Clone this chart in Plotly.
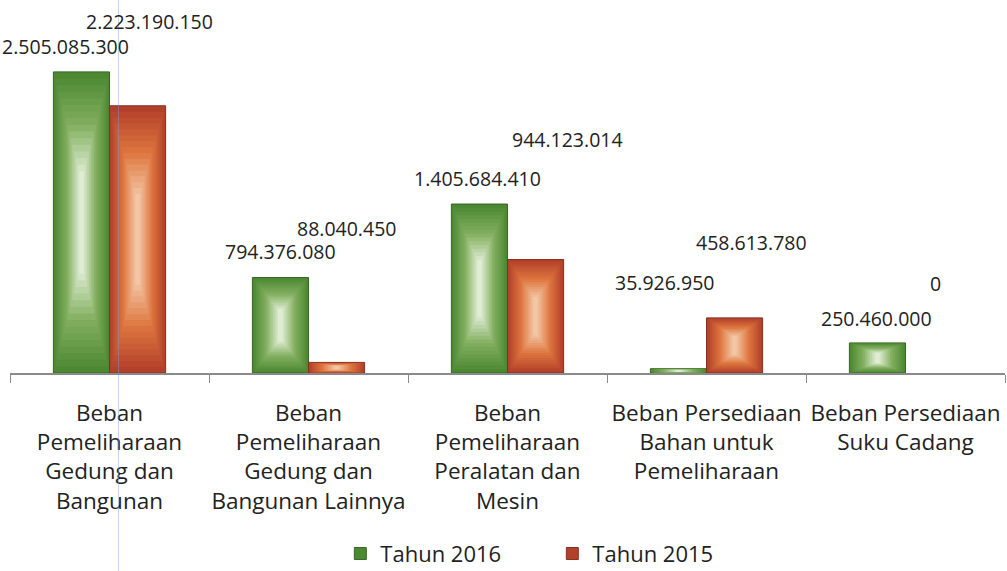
import plotly.graph_objects as go

# data
kategori = [
    "Beban<br>Pemeliharaan<br>Gedung dan<br>Bangunan",
    "Beban<br>Pemeliharaan<br>Gedung dan<br>Bangunan Lainnya",
    "Beban<br>Pemeliharaan<br>Peralatan dan<br>Mesin",
    "Beban Persediaan<br>Bahan untuk<br>Pemeliharaan",
    "Beban Persediaan<br>Suku Cadang",
]
tahun_2016 = [2505085300, 794376080, 1405684410, 35926950, 250460000]
tahun_2015 = [2223190150, 88040450, 944123014, 458613780, 0]
label_2016 = ["2.505.085.300", "794.376.080", "1.405.684.410", "35.926.950", "250.460.000"]
label_2015 = ["2.223.190.150", "88.040.450", "944.123.014", "458.613.780", "0"]

# label placement (pixels, as in the scanned original)
dx_2016 = [-44, -28, -30, -42, -29]
dy_2016 = [25, 26, 26, 86, 24]
dx_2015 = [40, 38, 60, 45, 30]
dy_2015 = [84, 134, 120, 75, 90]

FONT = "Open Sans"
BW = 0.282  # bar width in category units


def mix(c1, c2, t):
    return "rgb(%d,%d,%d)" % tuple(round(a + (b - a) * t) for a, b in zip(c1, c2))


def ramp(stops, t):
    # piecewise linear colour ramp
    n = len(stops) - 1
    i = min(int(t * n), n - 1)
    return mix(stops[i], stops[i + 1], t * n - i)


series = [
    ("Tahun 2016", tahun_2016, -BW / 2,
     [(76, 136, 50), (130, 175, 95), (224, 237, 212)]),
    ("Tahun 2015", tahun_2015, BW / 2,
     [(178, 64, 42), (222, 118, 62), (243, 198, 165)]),
]

fig = go.Figure()
n_layers = 16
for name, vals, center, stops in series:
    for k in range(n_layers):
        t = k / (n_layers - 1)
        w = BW * (1 - 0.92 * t)
        f = 0.022 * k  # shrink top/bottom a little for a soft gradient
        base = [v * f for v in vals]
        h = [v * (1 - 2 * f) for v in vals]
        fig.add_trace(go.Bar(
            x=kategori, y=h, base=base, width=w, offset=center - w / 2,
            name=name, showlegend=(k == 0), legendgroup=name,
            marker=dict(color=ramp(stops, t),
                        line=dict(width=[1 if (k == 0 and v > 0) else 0 for v in vals],
                                  color=mix(stops[0], (0, 0, 0), 0.25))),
            hoverinfo="skip" if k else None,
        ))

for i in range(len(kategori)):
    fig.add_annotation(x=i, y=tahun_2016[i], text=label_2016[i], showarrow=False,
                       xshift=dx_2016[i], yshift=dy_2016[i], yanchor="middle",
                       font=dict(size=19.5, color="#222", family=FONT))
    fig.add_annotation(x=i, y=tahun_2015[i], text=label_2015[i], showarrow=False,
                       xshift=dx_2015[i], yshift=dy_2015[i], yanchor="middle",
                       font=dict(size=19.5, color="#222", family=FONT))

# faint scan line
fig.add_shape(type="line", xref="paper", yref="paper", x0=0.109, x1=0.109, y0=-0.55, y1=1.05,
              line=dict(color="rgba(120,160,220,0.45)", width=1))

fig.update_layout(
    width=1007, height=571,
    barmode="overlay",
    paper_bgcolor="white", plot_bgcolor="white",
    margin=dict(l=10, r=2, t=10, b=198, autoexpand=False),
    font=dict(family=FONT, size=22, color="#222"),
    showlegend=True,
    legend=dict(orientation="h", x=0.332, xanchor="left", y=-0.44, yanchor="top",
                font=dict(size=22), itemwidth=30, entrywidth=167, entrywidthmode="pixels"),
    xaxis=dict(showline=True, linecolor="#8a8a8a", linewidth=1.5, range=[-0.5, 4.5],
               ticks="outside", tickson="boundaries", ticklen=8, tickcolor="#8a8a8a",
               ticklabelstandoff=19, tickangle=0, automargin=False,
               tickfont=dict(size=22.5, family=FONT), showgrid=False),
    yaxis=dict(visible=False, range=[0, 3.02e9], automargin=False),
)

fig.write_html("out.html", config={"displayModeBar": False},
               post_script="document.body.style.margin='0';")
